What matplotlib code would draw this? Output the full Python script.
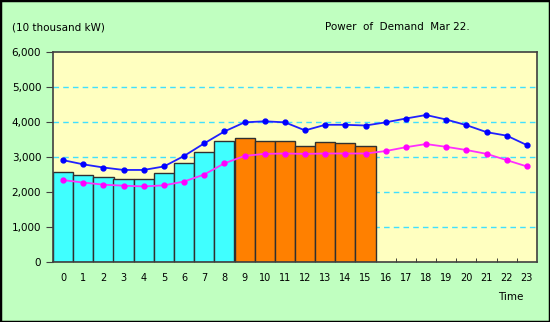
import matplotlib.pyplot as plt
from matplotlib.patches import Rectangle

hours = list(range(24))
actual = [2560, 2480, 2420, 2380, 2380, 2530, 2820, 3130, 3450,
          3540, 3450, 3470, 3310, 3420, 3400, 3310]
forecast_peak = [2910, 2790, 2700, 2630, 2630, 2730, 3030, 3390, 3730,
                 3990, 4020, 3990, 3760, 3920, 3920, 3900, 3990, 4100,
                 4200, 4070, 3910, 3710, 3610, 3340]
last_year = [2340, 2270, 2210, 2180, 2160, 2190, 2300, 2500, 2820,
             3030, 3090, 3100, 3090, 3100, 3100, 3100, 3170, 3280,
             3370, 3290, 3200, 3090, 2910, 2730]
ylabels = ['0', '1,000', '2,000', '3,000', '4,000', '5,000', '6,000']

fig = plt.figure(figsize=(5.5, 3.22), dpi=100)
fig.patch.set_facecolor('#c0ffc0')
fig.patches.append(Rectangle((0, 0), 1, 1, transform=fig.transFigure,
                             fill=False, edgecolor='black', linewidth=2.5))

ax = fig.add_axes([53 / 550, 60 / 322, 484 / 550, 210 / 322])
ax.set_facecolor('#ffffc0')

# bars: morning hours cyan, from 9 on orange
colors = ['#40ffff' if h < 9 else '#ff8000' for h in range(len(actual))]
ax.bar(hours[:len(actual)], actual, width=1.0, color=colors,
       edgecolor='#303030', linewidth=1.0, zorder=2)

ax.plot(hours, forecast_peak, color='#2020ff', lw=1.3, marker='o',
        ms=3.5, mec='#0000ff', mfc='#0000ff', zorder=3)
ax.plot(hours, last_year, color='#ff30ff', lw=1.3, marker='o',
        ms=3.5, mec='#ff00ff', mfc='#ff00ff', zorder=3)

ax.set_xlim(-0.5, 23.5)
ax.set_ylim(0, 6000)
ax.set_yticks(range(0, 7000, 1000))
ax.set_yticklabels(ylabels)
for y in range(1000, 6000, 1000):
    ax.axhline(y, color='#40e0ff', lw=1.0, ls=(0, (4, 3)), zorder=1)

ax.set_xticks(hours)
ax.set_xticks([h + 0.5 for h in hours[:-1]], minor=True)
ax.tick_params(axis='x', which='major', length=0, pad=8, labelsize=7)
ax.tick_params(axis='x', which='minor', direction='in', length=3,
               color='#202020')
ax.tick_params(axis='y', direction='out', length=5, labelsize=7.5,
               color='#404040')
for s in ax.spines.values():
    s.set_color('#404040')
    s.set_linewidth(1.2)

fig.text(12 / 550, 1 - 27 / 322, '(10 thousand kW)', fontsize=7.5,
         va='center', ha='left')
fig.text(325 / 550, 1 - 27 / 322, 'Power  of  Demand  Mar 22.',
         fontsize=7.5, va='center', ha='left')
fig.text(498 / 550, 1 - 297 / 322, 'Time', fontsize=7.5,
         va='center', ha='left')

fig.savefig('out.png', dpi=100, facecolor=fig.get_facecolor())
